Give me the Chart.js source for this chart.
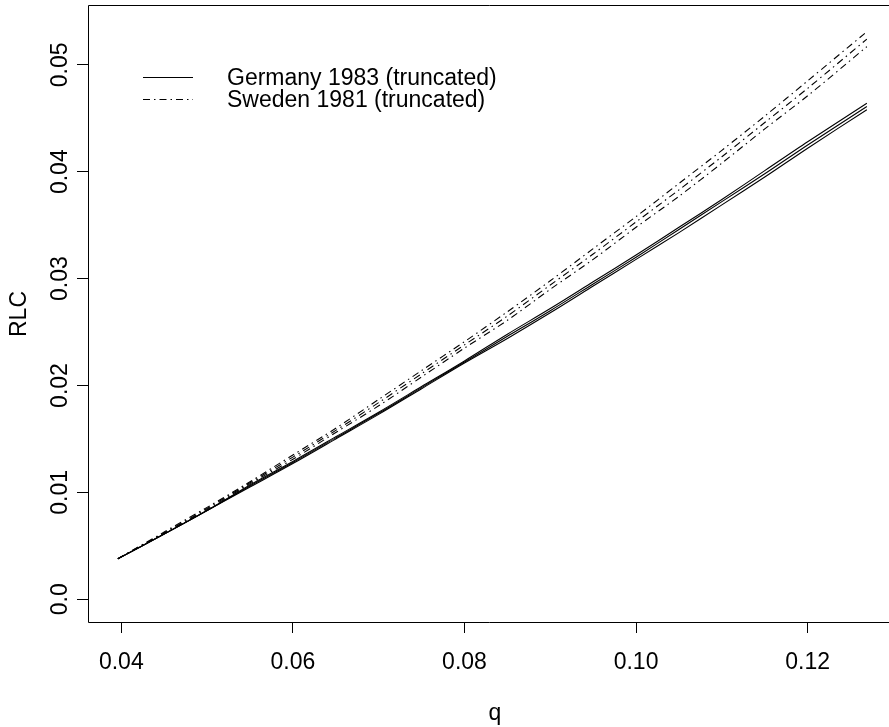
<!DOCTYPE html>
<html>
<head>
<meta charset="utf-8">
<script src="https://cdn.jsdelivr.net/npm/chart.js@4.4.1/dist/chart.umd.min.js"></script>
<style>
  html, body { margin: 0; padding: 0; background: #fff; overflow: hidden; }
  #wrap { width: 889px; height: 727px; }
</style>
</head>
<body>
<div id="wrap"><canvas id="rlcChart" width="889" height="727"></canvas></div>
<script>
// q grid and RLC curves
const qValues = [0.0396, 0.045, 0.05, 0.055, 0.06, 0.065, 0.07, 0.075, 0.08, 0.085, 0.09, 0.095, 0.10, 0.105, 0.11, 0.115, 0.12, 0.1269];

const germanyHigh = [0.0038, 0.0061, 0.0083, 0.0107, 0.0129, 0.0152, 0.0175, 0.0199, 0.0223, 0.0248, 0.0272, 0.0297, 0.0322, 0.0348, 0.0374, 0.0401, 0.0428, 0.0464];
const germanyMid  = [0.0038, 0.0061, 0.0083, 0.0106, 0.0128, 0.0151, 0.0174, 0.0198, 0.0222, 0.0246, 0.0270, 0.0295, 0.0320, 0.0346, 0.0372, 0.0398, 0.0425, 0.0461];
const germanyLow  = [0.0038, 0.0061, 0.0083, 0.0105, 0.0127, 0.0150, 0.0173, 0.0197, 0.0221, 0.0244, 0.0268, 0.0293, 0.0318, 0.0343, 0.0369, 0.0395, 0.0422, 0.0458];

const swedenHigh = [0.0038, 0.0063, 0.0086, 0.0110, 0.0135, 0.0160, 0.0187, 0.0214, 0.0241, 0.0269, 0.0298, 0.0328, 0.0358, 0.0389, 0.0420, 0.0452, 0.0485, 0.0531];
const swedenMid  = [0.0038, 0.0062, 0.0085, 0.0109, 0.0133, 0.0158, 0.0184, 0.0211, 0.0238, 0.0265, 0.0294, 0.0323, 0.0353, 0.0383, 0.0414, 0.0446, 0.0478, 0.0524];
const swedenLow  = [0.0038, 0.0062, 0.0084, 0.0108, 0.0131, 0.0156, 0.0181, 0.0208, 0.0235, 0.0261, 0.0290, 0.0318, 0.0348, 0.0377, 0.0408, 0.0440, 0.0471, 0.0517];

const xTickValues = [0.04, 0.06, 0.08, 0.10, 0.12];
const xTickLabels = ['0.04', '0.06', '0.08', '0.10', '0.12'];
const yTickValues = [0, 0.01, 0.02, 0.03, 0.04, 0.05];
const yTickLabels = ['0.0', '0.01', '0.02', '0.03', '0.04', '0.05'];

const legendLabels = ['Germany 1983 (truncated)', 'Sweden 1981 (truncated)'];

const FONT = '23px "Liberation Sans", Arial, sans-serif';
const DOTDASH = [7, 4, 1.5, 4];

function toPoints(ys) {
    return qValues.map(function(q, i) { return { x: q, y: ys[i] }; });
}

function curve(ys, dashed) {
    return {
        data: toPoints(ys),
        borderColor: '#000',
        borderWidth: 1.1,
        borderDash: dashed ? DOTDASH : [],
        pointRadius: 0,
        fill: false,
        tension: 0.3
    };
}

// box, rotated y labels, axis titles and legend, R style
const rDecor = {
    id: 'rDecor',
    afterDraw(chart) {
        const ctx = chart.ctx;
        const a = chart.chartArea;
        const yScale = chart.scales.y;
        ctx.save();

        ctx.strokeStyle = '#000';
        ctx.lineWidth = 1;
        ctx.beginPath();
        ctx.moveTo(a.right + 10, a.top - 0.5);
        ctx.lineTo(a.left + 0.5, a.top - 0.5);
        ctx.lineTo(a.left + 0.5, a.bottom + 0.5);
        ctx.lineTo(a.right + 10, a.bottom + 0.5);
        ctx.stroke();

        ctx.fillStyle = '#000';
        ctx.font = FONT;
        ctx.textAlign = 'center';
        ctx.textBaseline = 'middle';
        yTickValues.forEach(function(v, i) {
            ctx.save();
            ctx.translate(a.left - 27, yScale.getPixelForValue(v));
            ctx.rotate(-Math.PI / 2);
            ctx.fillText(yTickLabels[i], 0, 0);
            ctx.restore();
        });

        ctx.save();
        ctx.translate(20, (a.top + a.bottom) / 2);
        ctx.rotate(-Math.PI / 2);
        ctx.fillText('RLC', 0, 0);
        ctx.restore();

        ctx.fillText('q', 495, 714);

        // legend
        ctx.textAlign = 'left';
        [0, 1].forEach(function(i) {
            const ly = 77 + i * 22;
            ctx.beginPath();
            ctx.setLineDash(i === 0 ? [] : DOTDASH);
            ctx.lineWidth = 1.1;
            ctx.moveTo(143, ly + 0.5);
            ctx.lineTo(193, ly + 0.5);
            ctx.stroke();
            ctx.fillText(legendLabels[i], 227, ly + 2);
        });
        ctx.setLineDash([]);
        ctx.restore();
    }
};

const ctx = document.getElementById('rlcChart').getContext('2d');

new Chart(ctx, {
    type: 'line',
    data: {
        datasets: [
            curve(germanyHigh, false),
            curve(germanyMid, false),
            curve(germanyLow, false),
            curve(swedenHigh, true),
            curve(swedenMid, true),
            curve(swedenLow, true)
        ]
    },
    options: {
        responsive: false,
        animation: false,
        devicePixelRatio: 1,
        layout: { padding: { top: 6, right: 0, bottom: 0, left: 0 } },
        plugins: {
            legend: { display: false },
            tooltip: { enabled: false }
        },
        scales: {
            x: {
                type: 'linear',
                min: 0.03612,
                max: 0.12948,
                afterBuildTicks: function(scale) {
                    scale.ticks = xTickValues.map(function(v) { return { value: v }; });
                },
                afterFit: function(scale) { scale.height = 105; },
                border: { display: false },
                grid: { drawOnChartArea: false, drawTicks: true, tickLength: 11, color: '#000', lineWidth: 1 },
                ticks: {
                    color: '#000',
                    font: { family: '"Liberation Sans", Arial, sans-serif', size: 23 },
                    padding: 16,
                    maxRotation: 0,
                    autoSkip: false,
                    callback: function(value) {
                        const i = xTickValues.findIndex(function(t) { return Math.abs(t - value) < 1e-9; });
                        return i >= 0 ? xTickLabels[i] : '';
                    }
                }
            },
            y: {
                type: 'linear',
                min: -0.002123,
                max: 0.0555,
                afterBuildTicks: function(scale) {
                    scale.ticks = yTickValues.map(function(v) { return { value: v }; });
                },
                afterFit: function(scale) { scale.width = 88; },
                border: { display: false },
                grid: { drawOnChartArea: false, drawTicks: true, tickLength: 11, color: '#000', lineWidth: 1 },
                ticks: { display: false }
            }
        }
    },
    plugins: [rDecor]
});
</script>
</body>
</html>
